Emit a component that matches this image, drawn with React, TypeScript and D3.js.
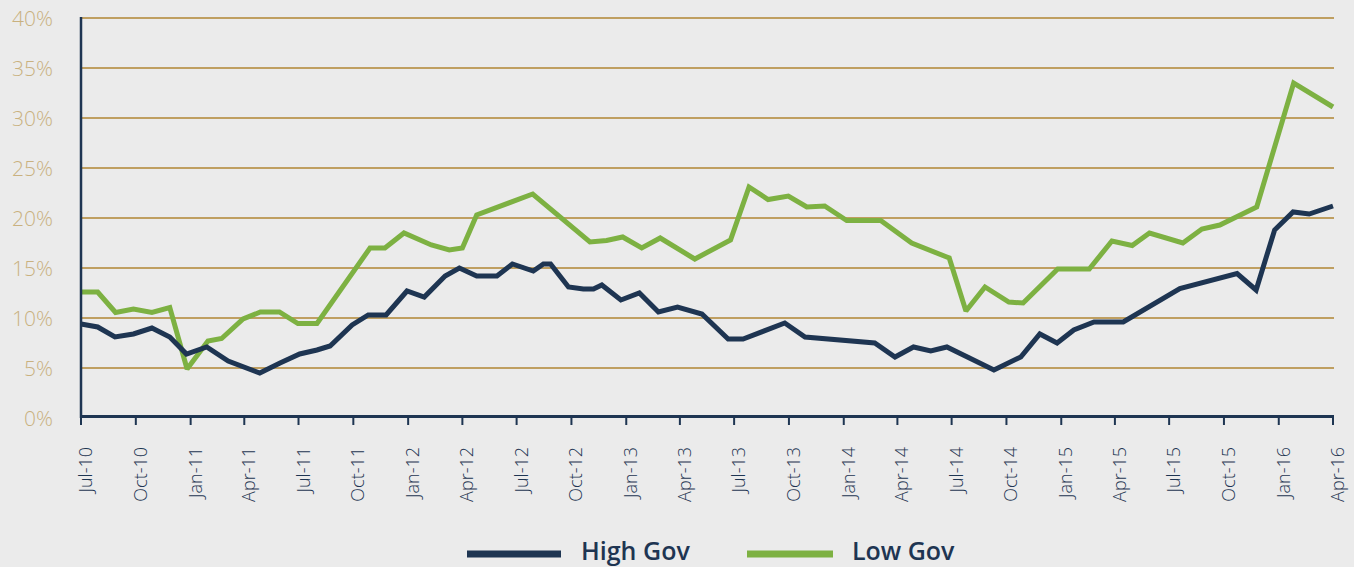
import React, { useEffect } from "react";
import * as d3 from "d3";

// ---- data ----
const highGovDates = [
  "2010-07-01", "2010-07-29", "2010-08-27", "2010-09-27", "2010-10-28", "2010-11-27",
  "2010-12-25", "2011-01-28", "2011-03-05", "2011-04-27", "2011-05-31", "2011-07-03",
  "2011-08-01", "2011-08-23", "2011-09-29", "2011-10-26", "2011-11-25", "2011-12-30",
  "2012-01-28", "2012-03-03", "2012-03-27", "2012-04-25", "2012-05-29", "2012-06-24",
  "2012-07-29", "2012-08-15", "2012-08-27", "2012-09-26", "2012-10-21", "2012-11-07",
  "2012-11-21", "2012-12-23", "2013-01-23", "2013-02-24", "2013-03-28", "2013-05-08",
  "2013-06-21", "2013-07-16", "2013-09-24", "2013-10-28", "2014-02-22", "2014-03-28",
  "2014-04-28", "2014-05-27", "2014-06-23", "2014-09-10", "2014-10-25", "2014-11-26",
  "2014-12-25", "2015-01-22", "2015-02-25", "2015-04-15", "2015-07-19", "2015-10-23",
  "2015-11-24", "2015-12-25", "2016-01-25", "2016-02-21", "2016-04-01",
];
const highGovValues = [
  9.4, 9.1, 8.1, 8.4, 9.0, 8.1,
  6.4, 7.1, 5.7, 4.5, 5.5, 6.4,
  6.8, 7.2, 9.3, 10.3, 10.3, 12.7,
  12.1, 14.2, 15.0, 14.2, 14.2, 15.4,
  14.7, 15.4, 15.4, 13.1, 12.9, 12.9,
  13.3, 11.8, 12.5, 10.6, 11.1, 10.4,
  7.9, 7.9, 9.5, 8.1, 7.5, 6.1,
  7.1, 6.7, 7.1, 4.8, 6.1, 8.4,
  7.5, 8.8, 9.6, 9.6, 12.95, 14.45,
  12.8, 18.8, 20.6, 20.4, 21.2,
];

const lowGovDates = [
  "2010-07-01", "2010-07-29", "2010-08-28", "2010-09-27", "2010-10-28", "2010-11-27",
  "2010-12-26", "2011-01-30", "2011-02-22", "2011-03-30", "2011-04-28", "2011-05-30",
  "2011-06-30", "2011-08-01", "2011-10-29", "2011-11-23", "2011-12-25", "2012-02-09",
  "2012-03-10", "2012-04-01", "2012-04-25", "2012-07-28", "2012-11-01", "2012-11-29",
  "2012-12-26", "2013-01-27", "2013-02-27", "2013-04-26", "2013-06-25", "2013-07-26",
  "2013-08-27", "2013-09-30", "2013-10-31", "2013-11-30", "2014-01-06", "2014-03-04",
  "2014-04-25", "2014-06-27", "2014-07-25", "2014-08-26", "2014-10-05", "2014-10-29",
  "2014-12-26", "2015-02-17", "2015-03-27", "2015-04-30", "2015-05-29", "2015-07-24",
  "2015-08-25", "2015-09-24", "2015-11-25", "2016-01-26", "2016-04-01",
];
const lowGovValues = [
  12.6, 12.6, 10.55, 10.9, 10.55, 11.05,
  4.9, 7.7, 7.95, 9.9, 10.6, 10.6,
  9.45, 9.45, 17.0, 17.0, 18.5, 17.3,
  16.8, 17.0, 20.3, 22.4, 17.6, 17.75,
  18.1, 17.0, 18.0, 15.9, 17.8, 23.1,
  21.85, 22.2, 21.1, 21.2, 19.75, 19.75,
  17.5, 16.0, 10.7, 13.1, 11.6, 11.5,
  14.9, 14.9, 17.7, 17.25, 18.5, 17.5,
  18.9, 19.3, 21.1, 33.5, 31.1,
];

const yTickValues = [0, 5, 10, 15, 20, 25, 30, 35, 40];
const xDomain = ["2010-07-01", "2016-04-01"];
const seriesNames = ["High Gov", "Low Gov"];
const seriesColors = ["#1e3552", "#7db142"];

const W = 1354;
const H = 567;
const X0 = 81;
const X1 = 1333;
const Y0 = 418;
const Y1 = 18;

export default function App() {
  useEffect(() => {
    document.body.style.margin = "0";
    document.body.style.background = "#ebebeb";
  }, []);

  const parse = d3.utcParse("%Y-%m-%d");
  const x = d3
    .scaleUtc()
    .domain(xDomain.map((s) => parse(s) as Date))
    .range([X0, X1]);
  const y = d3.scaleLinear().domain([0, 40]).range([Y0, Y1]);

  const xTicks = d3.utcMonth.every(3)!.range(parse(xDomain[0]) as Date, d3.utcDay.offset(parse(xDomain[1]) as Date, 1));
  const fmt = d3.utcFormat("%b-%y");

  const line = d3
    .line<[Date, number]>()
    .x((d) => x(d[0]))
    .y((d) => y(d[1]));

  const high: [Date, number][] = highGovDates.map((d, i) => [parse(d) as Date, highGovValues[i]]);
  const low: [Date, number][] = lowGovDates.map((d, i) => [parse(d) as Date, lowGovValues[i]]);

  const navy = "#1e3552";
  const gold = "#bf9f61";
  const labelGold = "#c9b17f";

  const legend = [
    { name: seriesNames[0], color: seriesColors[0], x0: 467, x1: 561, tx: 581 },
    { name: seriesNames[1], color: seriesColors[1], x0: 747, x1: 833, tx: 852 },
  ];

  return (
    <div style={{ width: W, height: H, background: "#ebebeb" }}>
      <svg width={W} height={H} style={{ display: "block" }}>
        <rect x={0} y={0} width={W} height={H} fill="#ebebeb" />
        {/* gridlines */}
        {yTickValues
          .filter((v) => v > 0)
          .map((v) => (
            <line key={"g" + v} x1={X0} x2={X1 + 1} y1={y(v)} y2={y(v)} stroke={gold} strokeWidth={2} />
          ))}
        {/* y labels */}
        {yTickValues.map((v) => (
          <text
            key={"yl" + v}
            x={53}
            y={y(v)}
            textAnchor="end"
            dominantBaseline="central"
            fill={labelGold}
            fontFamily="'Open Sans', sans-serif"
            fontWeight={300}
            fontSize={21}
          >
            {v + "%"}
          </text>
        ))}
        {/* series */}
        <path d={line(low) || ""} fill="none" stroke={seriesColors[1]} strokeWidth={5} strokeLinejoin="miter" strokeMiterlimit={2} />
        <path d={line(high) || ""} fill="none" stroke={seriesColors[0]} strokeWidth={5} strokeLinejoin="miter" strokeMiterlimit={2} />
        {/* axes */}
        <line x1={X0} x2={X0} y1={Y1 - 1} y2={Y0} stroke={navy} strokeWidth={2.5} />
        <line x1={X0 - 1} x2={X1 + 1} y1={Y0 - 1.5} y2={Y0 - 1.5} stroke={navy} strokeWidth={3} />
        {xTicks.map((t, i) => (
          <g key={"xt" + i}>
            <line x1={x(t)} x2={x(t)} y1={Y0 - 2} y2={425} stroke={navy} strokeWidth={2} />
            <text
              transform={`translate(${x(t) + 4},447) rotate(-90)`}
              textAnchor="end"
              dominantBaseline="central"
              fill={navy}
              fontFamily="'Open Sans', sans-serif"
              fontWeight={300}
              fontSize={18}
            >
              {fmt(t)}
            </text>
          </g>
        ))}
        {/* legend */}
        {legend.map((l) => (
          <g key={l.name}>
            <line x1={l.x0} x2={l.x1} y1={554} y2={554} stroke={l.color} strokeWidth={7} />
            <text x={l.tx} y={560} fill={navy} fontFamily="'Open Sans', sans-serif" fontWeight={600} fontSize={25}>
              {l.name}
            </text>
          </g>
        ))}
      </svg>
    </div>
  );
}
